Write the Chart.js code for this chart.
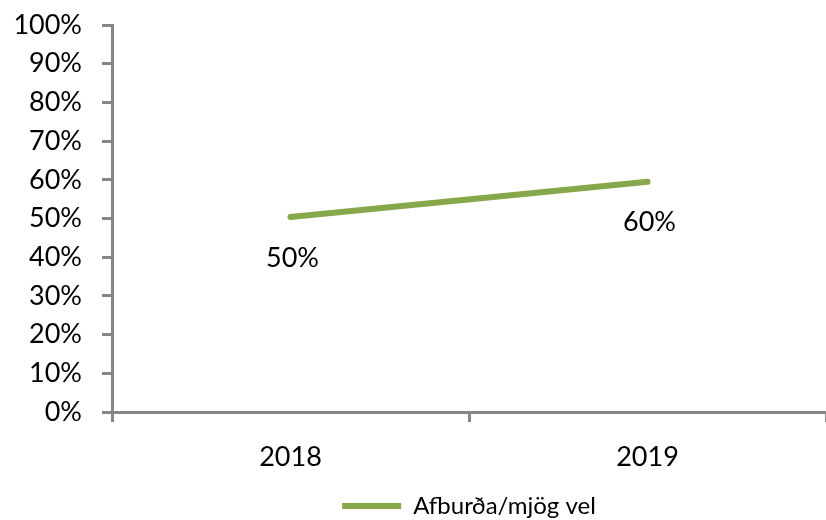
<!DOCTYPE html>
<html>
<head>
<meta charset="utf-8">
<script src="https://cdn.jsdelivr.net/npm/chart.js@4"></script>
<style>
  body { margin: 0; background: #fff; }
  canvas { display: block; }
</style>
</head>
<body>
<canvas id="chart" width="826" height="520"></canvas>
<script>
// 1. Data
const years = ['2018', '2019'];
const seriesName = 'Afburða/mjög vel';
const seriesValues = [50.4, 59.5];
const yTicks = [0, 10, 20, 30, 40, 50, 60, 70, 80, 90, 100];

const GREEN = '#86A84A';
const AXIS = '#868686';
const FONT = 'Lato';

// 2. Labels under each point
const pointLabels = {
    id: 'pointLabels',
    afterDatasetsDraw(chart) {
        const ctx = chart.ctx;
        const meta = chart.getDatasetMeta(0);
        ctx.save();
        ctx.font = `27px ${FONT}`;
        ctx.fillStyle = '#000';
        ctx.textAlign = 'center';
        ctx.textBaseline = 'middle';
        meta.data.forEach((pt, i) => {
            ctx.fillText(Math.round(seriesValues[i]) + '%', pt.x + 2, pt.y + 41);
        });
        ctx.restore();
    }
};

// 3. Render chart
new Chart(document.getElementById('chart'), {
    type: 'line',
    data: {
        labels: years,
        datasets: [{
            label: seriesName,
            data: seriesValues,
            borderColor: GREEN,
            backgroundColor: GREEN,
            borderWidth: 6,
            borderCapStyle: 'round',
            pointRadius: 0,
            pointHoverRadius: 0,
            tension: 0
        }]
    },
    options: {
        responsive: false,
        animation: false,
        layout: { padding: { top: 25, right: 0, left: 0, bottom: -8 } },
        plugins: {
            tooltip: { enabled: false },
            legend: {
                position: 'bottom',
                fullSize: false,
                labels: {
                    usePointStyle: true,
                    pointStyle: 'line',
                    pointStyleWidth: 59,
                    boxHeight: 6,
                    padding: 0,
                    color: '#000',
                    font: { family: FONT, size: 24 }
                }
            }
        },
        scales: {
            x: {
                offset: true,
                grid: {
                    offset: true,
                    drawOnChartArea: false,
                    drawTicks: true,
                    tickLength: 10,
                    color: AXIS,
                    lineWidth: 3
                },
                border: { display: true, color: AXIS, width: 3 },
                ticks: {
                    color: '#000',
                    padding: 19,
                    font: { family: FONT, size: 27 }
                },
                afterFit(scale) {
                    scale.height = 82;
                    scale.paddingLeft = 0;
                    scale.paddingRight = 0;
                }
            },
            y: {
                min: 0,
                max: 100,
                afterBuildTicks(scale) { scale.ticks = yTicks.map(v => ({ value: v })); },
                grid: {
                    drawOnChartArea: false,
                    drawTicks: true,
                    tickLength: 10,
                    color: AXIS,
                    lineWidth: 3
                },
                border: { display: true, color: AXIS, width: 3 },
                ticks: {
                    color: '#000',
                    padding: 20,
                    font: { family: FONT, size: 27 },
                    callback: v => v + '%'
                },
                afterFit(scale) {
                    scale.width = 112;
                    scale.paddingTop = 0;
                    scale.paddingBottom = 0;
                }
            }
        }
    },
    plugins: [pointLabels]
});
</script>
</body>
</html>
